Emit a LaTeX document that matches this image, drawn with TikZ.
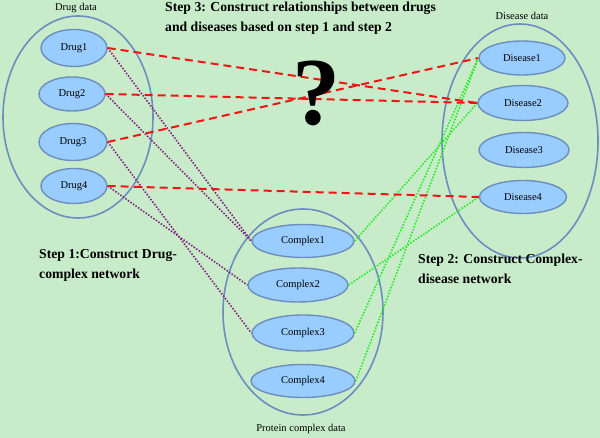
\documentclass[tikz,border=0pt]{standalone}
\usepackage{fontspec}
\setmainfont{Liberation Serif}
\usetikzlibrary{shapes.geometric}

\definecolor{bggreen}{RGB}{200,236,202}
\definecolor{itemblue}{RGB}{153,204,255}
\definecolor{rimblue}{RGB}{108,142,191}
\definecolor{linkred}{RGB}{240,20,20}
\definecolor{linkpurple}{RGB}{128,32,128}
\definecolor{linkgreen}{RGB}{30,235,30}

\begin{document}
\begin{tikzpicture}[x=1pt,y=-1pt]
				\tikzstyle{item}=[ellipse,draw=rimblue,line width=1.4pt,fill=itemblue,inner sep=0pt,font=\fontsize{10.5}{12}\selectfont]
				\tikzstyle{group}=[draw=rimblue,line width=1.6pt]
				\tikzstyle{tag}=[font=\fontsize{10.5}{12}\selectfont]
				\tikzstyle{steptext}=[font=\fontsize{13.7}{20}\selectfont\bfseries,align=left,anchor=north west,inner sep=0pt]
				\tikzstyle{drugdisease}=[linkred,line width=2pt,dash pattern=on 8pt off 5pt]
				\tikzstyle{drugcomplex}=[linkpurple,line width=1.6pt,dash pattern=on 1.5pt off 1.6pt]
				\tikzstyle{complexdisease}=[linkgreen,line width=1.6pt,dash pattern=on 1.5pt off 1.6pt]
				\useasboundingbox (0,0) rectangle (600,438);
				\fill [bggreen] (0,0) rectangle (600,438);
				% data groups
				\draw [group] (78,117) ellipse (75 and 101);
				\draw [group] (520,141) ellipse (78 and 117);
				\draw [group] (303,312) ellipse (80 and 103);
				\node [tag] (drugdata) at (76,8) {Drug data};
				\node [tag] (diseasedata) at (522,16) {Disease data};
				\node [tag] (proteindata) at (301,429) {Protein complex data};
				% drugs
				\node [item,minimum width=66pt,minimum height=37pt] (drug1) at (74,48) {Drug1};
				\node [item,minimum width=66pt,minimum height=34pt] (drug2) at (72,94) {Drug2};
				\node [item,minimum width=68pt,minimum height=37pt] (drug3) at (73,142) {Drug3};
				\node [item,minimum width=66pt,minimum height=35pt] (drug4) at (74,186) {Drug4};
				% diseases
				\node [item,minimum width=86pt,minimum height=34pt] (disease1) at (522,58) {Disease1};
				\node [item,minimum width=90pt,minimum height=35pt] (disease2) at (523,103) {Disease2};
				\node [item,minimum width=90pt,minimum height=35pt] (disease3) at (524,150) {Disease3};
				\node [item,minimum width=87pt,minimum height=33pt] (disease4) at (523,197) {Disease4};
				% complexes
				\node [item,minimum width=102pt,minimum height=33pt] (complex1) at (303,241) {Complex1};
				\node [item,minimum width=100pt,minimum height=34pt] (complex2) at (298,285) {Complex2};
				\node [item,minimum width=102pt,minimum height=36pt] (complex3) at (303,333) {Complex3};
				\node [item,minimum width=104pt,minimum height=33pt] (complex4) at (303,381) {Complex4};
				% step 1
				\draw [drugcomplex] (drug1.east) -- (complex1.west);
				\draw [drugcomplex] (drug2.east) -- (complex1.west);
				\draw [drugcomplex] (drug3.east) -- (complex3.west);
				\draw [drugcomplex] (drug4.east) -- (complex2.west);
				% step 2
				\draw [complexdisease] (complex1.east) -- (disease2.west);
				\draw [complexdisease] (complex2.east) -- (disease4.west);
				\draw [complexdisease] (complex3.east) -- (disease1.west);
				\draw [complexdisease] (complex4.east) -- (disease1.west);
				% step 3
				\draw [drugdisease] (drug1.east) -- (disease2.west);
				\draw [drugdisease] (drug2.east) -- (disease2.west);
				\draw [drugdisease] (drug3.east) -- (disease1.west);
				\draw [drugdisease] (drug4.east) -- (disease4.west);
				\node [font=\fontsize{96}{96}\selectfont\bfseries,inner sep=0pt] (unknown) at (316,93) {?};
				\node [steptext] (step3) at (165,2) {Step 3: Construct relationships between drugs\\and diseases based on step 1 and step 2};
				\node [steptext] (step1) at (39,249) {Step 1:Construct Drug-\\complex network};
				\node [steptext] (step2) at (418,254) {Step 2: Construct Complex-\\disease network};
			\end{tikzpicture}
\end{document}
